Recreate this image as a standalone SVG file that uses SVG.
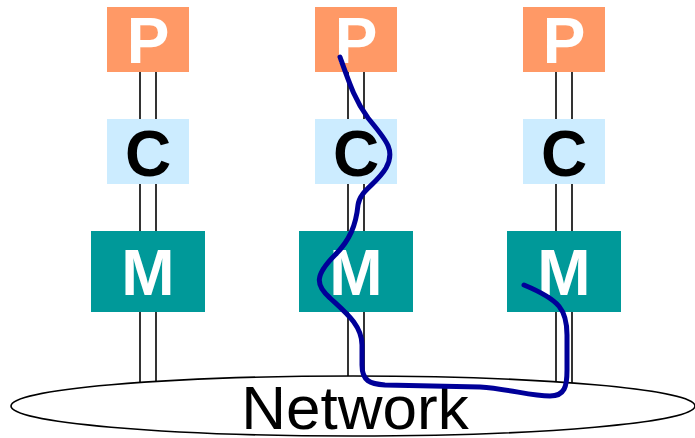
<svg xmlns="http://www.w3.org/2000/svg" width="695" height="438" viewBox="0 0 695 438">
  <style>
    .bus { stroke: #000; stroke-width: 1.6; fill: none; }
    .p { fill: #FF9966; }
    .c { fill: #CCECFF; }
    .m { fill: #009999; }
    .lbl { font-family: "Liberation Sans", Arial, sans-serif; font-weight: bold; font-size: 64px; text-anchor: middle; }
    .w { fill: #fff; }
    .k { fill: #000; }
    .net { fill: #fff; stroke: #000; stroke-width: 1.6; }
    .nettext { font-family: "Liberation Sans", Arial, sans-serif; font-size: 62px; text-anchor: middle; fill: #000; }
    .route { fill: none; stroke: #000099; stroke-width: 5; stroke-linecap: round; stroke-linejoin: round; }
  </style>

  <!-- double wire links from each processor down to the network -->
  <g id="connectors">
    <line class="bus" x1="140" y1="72" x2="140" y2="395"/>
    <line class="bus" x1="156" y1="72" x2="156" y2="395"/>
    <line class="bus" x1="348" y1="72" x2="348" y2="395"/>
    <line class="bus" x1="364" y1="72" x2="364" y2="395"/>
    <line class="bus" x1="556" y1="72" x2="556" y2="395"/>
    <line class="bus" x1="572" y1="72" x2="572" y2="395"/>
  </g>

  <g id="network">
    <ellipse class="net" cx="353" cy="406" rx="342" ry="30"/>
    <text class="nettext" x="355" y="429">Network</text>
  </g>

  <!-- column 1 -->
  <g id="p1"><rect class="p" x="107" y="7" width="82" height="65"/><text class="lbl w" x="148" y="63">P</text></g>
  <g id="c1"><rect class="c" x="107" y="119" width="82" height="65"/><text class="lbl k" x="148" y="176">C</text></g>
  <g id="m1"><rect class="m" x="91" y="231" width="114" height="81"/><text class="lbl w" x="148" y="295">M</text></g>

  <!-- column 2 -->
  <g id="p2"><rect class="p" x="315" y="7" width="82" height="65"/><text class="lbl w" x="356" y="63">P</text></g>
  <g id="c2"><rect class="c" x="315" y="119" width="82" height="65"/><text class="lbl k" x="356" y="176">C</text></g>
  <g id="m2"><rect class="m" x="299" y="231" width="114" height="81"/><text class="lbl w" x="356" y="295">M</text></g>

  <!-- column 3 -->
  <g id="p3"><rect class="p" x="523" y="7" width="82" height="65"/><text class="lbl w" x="564" y="63">P</text></g>
  <g id="c3"><rect class="c" x="523" y="119" width="82" height="65"/><text class="lbl k" x="564" y="176">C</text></g>
  <g id="m3"><rect class="m" x="507" y="231" width="114" height="81"/><text class="lbl w" x="564" y="295">M</text></g>

  <!-- access path from the middle processor to the remote memory -->
  <g id="route">
    <path class="route" d="M340,57 C350,85 355,100 368,118 C386,140 396,150 386,168 C376,185 360,190 358,205 C356,225 350,240 335,255 C315,275 315,285 330,298 C345,312 362,325 362,345 L362,365 C362,381 370,384 385,385 L480,387 C510,389 530,396 550,396 C565,396 567,386 567,370 L567,335 C567,310 560,300 524,285"/>
  </g>
</svg>
